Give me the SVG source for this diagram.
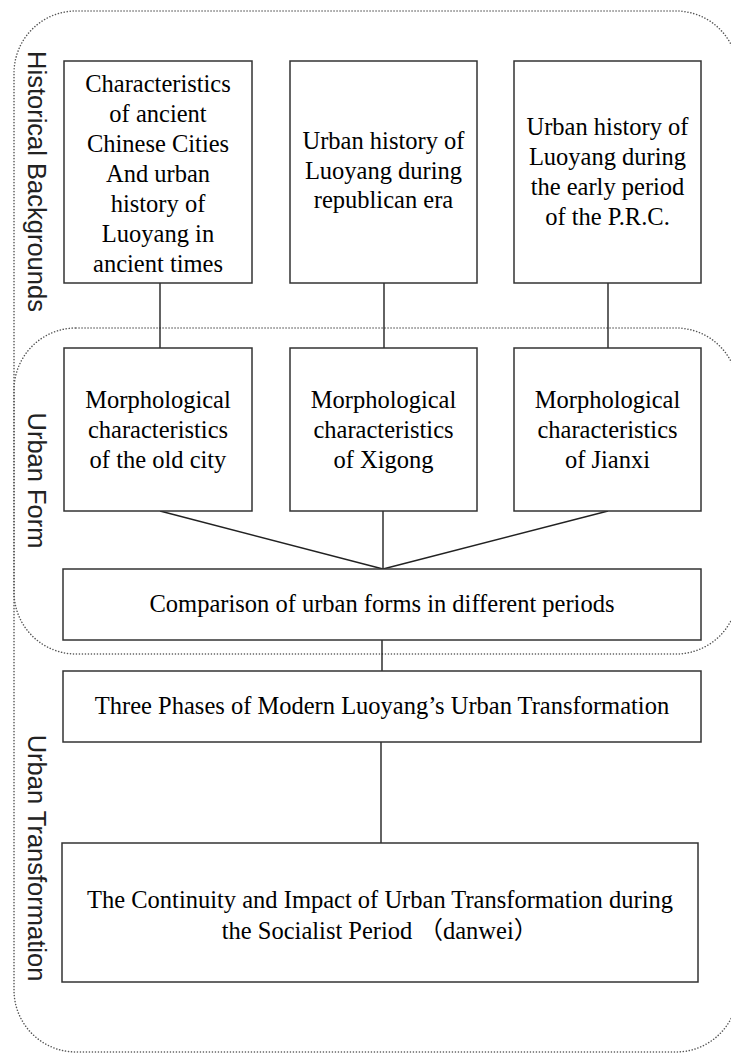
<svg xmlns="http://www.w3.org/2000/svg" width="731" height="1053" viewBox="0 0 731 1053">
<style>
.region{fill:none;stroke:#555;stroke-width:1.5;stroke-dasharray:0.1 2.9;stroke-linecap:round}
.box{fill:#fff;stroke:#333;stroke-width:1.5}
.t{font-family:"Liberation Serif","Times New Roman",serif;font-size:24.5px;fill:#000;text-anchor:middle}
.cjk{font-family:"Liberation Serif","Noto Sans CJK SC",serif}
.lab{font-family:"Liberation Sans",Arial,sans-serif;font-size:25.5px;fill:#222;text-anchor:middle}
.c{stroke:#222;stroke-width:1.4;fill:none}
</style>
<rect width="731" height="1053" fill="#fff"/>
<g id="regions">
<rect id="region-historical" class="region" x="14" y="11" width="724" height="1041" rx="62" ry="62"/>
<rect id="region-form" class="region" x="14" y="328" width="724" height="326" rx="62" ry="62"/>
</g>
<g id="labels">
<text class="lab" transform="translate(28,181.5) rotate(90)">Historical Backgrounds</text>
<text class="lab" transform="translate(28,480.5) rotate(90)">Urban Form</text>
<text class="lab" transform="translate(28,858) rotate(90)">Urban Transformation</text>
</g>
<g id="connectors">
<line class="c" x1="160" y1="283" x2="160" y2="348"/>
<line class="c" x1="384" y1="283" x2="384" y2="348"/>
<line class="c" x1="608" y1="283" x2="608" y2="348"/>
<line class="c" x1="160" y1="511" x2="383" y2="569"/>
<line class="c" x1="383" y1="511" x2="383" y2="569"/>
<line class="c" x1="608" y1="511" x2="383" y2="569"/>
<line class="c" x1="382" y1="640" x2="382" y2="671"/>
<line class="c" x1="381" y1="742" x2="381" y2="843"/>
</g>
<g id="node-ancient">
<rect class="box" x="64" y="61" width="188" height="222"/>
<text class="t"><tspan x="158" y="92">Characteristics</tspan><tspan x="158" y="122">of ancient</tspan><tspan x="158" y="152">Chinese Cities</tspan><tspan x="158" y="182">And urban</tspan><tspan x="158" y="212">history of</tspan><tspan x="158" y="242">Luoyang in</tspan><tspan x="158" y="272">ancient times</tspan></text>
</g>
<g id="node-republican">
<rect class="box" x="290" y="61" width="187" height="222"/>
<text class="t"><tspan x="383.5" y="149">Urban history of</tspan><tspan x="383.5" y="178.5">Luoyang during</tspan><tspan x="383.5" y="208">republican era</tspan></text>
</g>
<g id="node-prc">
<rect class="box" x="514" y="61" width="187" height="222"/>
<text class="t"><tspan x="607.5" y="135">Urban history of</tspan><tspan x="607.5" y="165">Luoyang during</tspan><tspan x="607.5" y="195">the early period</tspan><tspan x="607.5" y="225">of the P.R.C.</tspan></text>
</g>
<g id="node-oldcity">
<rect class="box" x="64" y="348" width="188" height="163"/>
<text class="t"><tspan x="158" y="408">Morphological</tspan><tspan x="158" y="438">characteristics</tspan><tspan x="158" y="468">of the old city</tspan></text>
</g>
<g id="node-xigong">
<rect class="box" x="290" y="348" width="187" height="163"/>
<text class="t"><tspan x="383.5" y="408">Morphological</tspan><tspan x="383.5" y="438">characteristics</tspan><tspan x="383.5" y="468">of Xigong</tspan></text>
</g>
<g id="node-jianxi">
<rect class="box" x="514" y="348" width="187" height="163"/>
<text class="t"><tspan x="607.5" y="408">Morphological</tspan><tspan x="607.5" y="438">characteristics</tspan><tspan x="607.5" y="468">of Jianxi</tspan></text>
</g>
<g id="node-comparison">
<rect class="box" x="63" y="569" width="638" height="71"/>
<text class="t" x="382" y="612">Comparison of urban forms in different periods</text>
</g>
<g id="node-phases">
<rect class="box" x="63" y="671" width="638" height="71"/>
<text class="t" x="382" y="714">Three Phases of Modern Luoyang’s Urban Transformation</text>
</g>
<g id="node-continuity">
<rect class="box" x="62" y="843" width="636" height="139"/>
<text class="t cjk"><tspan x="380" y="908">The Continuity and Impact of Urban Transformation during</tspan><tspan x="380" y="939">the Socialist Period （danwei）</tspan></text>
</g>
</svg>
